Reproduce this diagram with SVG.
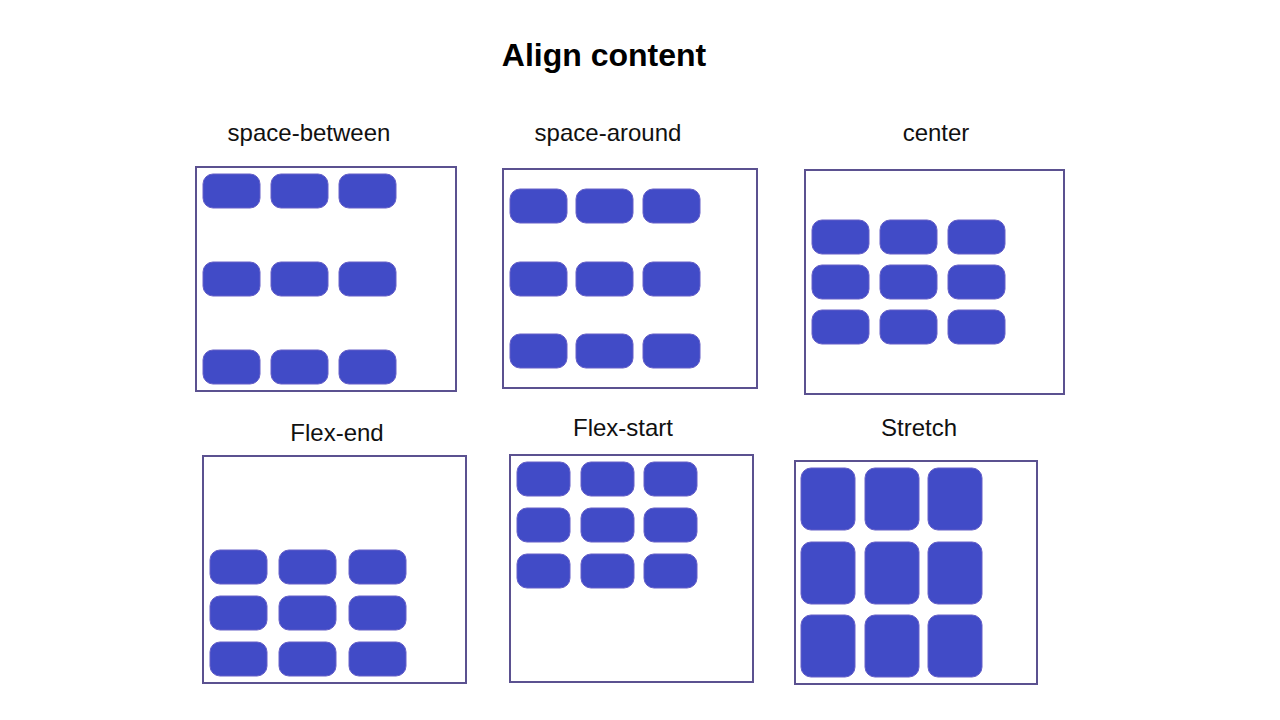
<svg xmlns="http://www.w3.org/2000/svg" width="1280" height="720" viewBox="0 0 1280 720">
<style>
.bg{fill:#ffffff}
.box{fill:#ffffff;stroke:#5b5190;stroke-width:2}
.it{fill:#414bc7;stroke:#6660c8;stroke-width:1}
.lbl{font-family:"Liberation Sans",Arial,sans-serif;font-size:24px;fill:#111111;text-anchor:middle}
.ttl{font-family:"Liberation Sans",Arial,sans-serif;font-size:32px;font-weight:bold;fill:#000000;text-anchor:middle}
</style>
<defs>
<rect id="w" width="57" height="34" rx="10" class="it"/>
<rect id="t" width="54" height="62" rx="10" class="it"/>
</defs>
<rect class="bg" x="0" y="0" width="1280" height="720"/>
<text class="ttl" x="604" y="66">Align content</text>

<g id="space-between">
<text class="lbl" x="309" y="141">space-between</text>
<rect class="box" x="196" y="167" width="260" height="224"/>
<use href="#w" x="203" y="174"/><use href="#w" x="271" y="174"/><use href="#w" x="339" y="174"/>
<use href="#w" x="203" y="262"/><use href="#w" x="271" y="262"/><use href="#w" x="339" y="262"/>
<use href="#w" x="203" y="350"/><use href="#w" x="271" y="350"/><use href="#w" x="339" y="350"/>
</g>

<g id="space-around">
<text class="lbl" x="608" y="141">space-around</text>
<rect class="box" x="503" y="169" width="254" height="219"/>
<use href="#w" x="510" y="189"/><use href="#w" x="576" y="189"/><use href="#w" x="643" y="189"/>
<use href="#w" x="510" y="262"/><use href="#w" x="576" y="262"/><use href="#w" x="643" y="262"/>
<use href="#w" x="510" y="334"/><use href="#w" x="576" y="334"/><use href="#w" x="643" y="334"/>
</g>

<g id="center">
<text class="lbl" x="936" y="141">center</text>
<rect class="box" x="805" y="170" width="259" height="224"/>
<use href="#w" x="812" y="220"/><use href="#w" x="880" y="220"/><use href="#w" x="948" y="220"/>
<use href="#w" x="812" y="265"/><use href="#w" x="880" y="265"/><use href="#w" x="948" y="265"/>
<use href="#w" x="812" y="310"/><use href="#w" x="880" y="310"/><use href="#w" x="948" y="310"/>
</g>

<g id="flex-end">
<text class="lbl" x="337" y="441">Flex-end</text>
<rect class="box" x="203" y="456" width="263" height="227"/>
<use href="#w" x="210" y="550"/><use href="#w" x="279" y="550"/><use href="#w" x="349" y="550"/>
<use href="#w" x="210" y="596"/><use href="#w" x="279" y="596"/><use href="#w" x="349" y="596"/>
<use href="#w" x="210" y="642"/><use href="#w" x="279" y="642"/><use href="#w" x="349" y="642"/>
</g>

<g id="flex-start">
<text class="lbl" x="623" y="436">Flex-start</text>
<rect class="box" x="510" y="455" width="243" height="227"/>
<rect class="it" x="517" y="462" width="53" height="34" rx="10"/><rect class="it" x="581" y="462" width="53" height="34" rx="10"/><rect class="it" x="644" y="462" width="53" height="34" rx="10"/>
<rect class="it" x="517" y="508" width="53" height="34" rx="10"/><rect class="it" x="581" y="508" width="53" height="34" rx="10"/><rect class="it" x="644" y="508" width="53" height="34" rx="10"/>
<rect class="it" x="517" y="554" width="53" height="34" rx="10"/><rect class="it" x="581" y="554" width="53" height="34" rx="10"/><rect class="it" x="644" y="554" width="53" height="34" rx="10"/>
</g>

<g id="stretch">
<text class="lbl" x="919" y="436">Stretch</text>
<rect class="box" x="795" y="461" width="242" height="223"/>
<use href="#t" x="801" y="468"/><use href="#t" x="865" y="468"/><use href="#t" x="928" y="468"/>
<use href="#t" x="801" y="542"/><use href="#t" x="865" y="542"/><use href="#t" x="928" y="542"/>
<use href="#t" x="801" y="615"/><use href="#t" x="865" y="615"/><use href="#t" x="928" y="615"/>
</g>
</svg>
